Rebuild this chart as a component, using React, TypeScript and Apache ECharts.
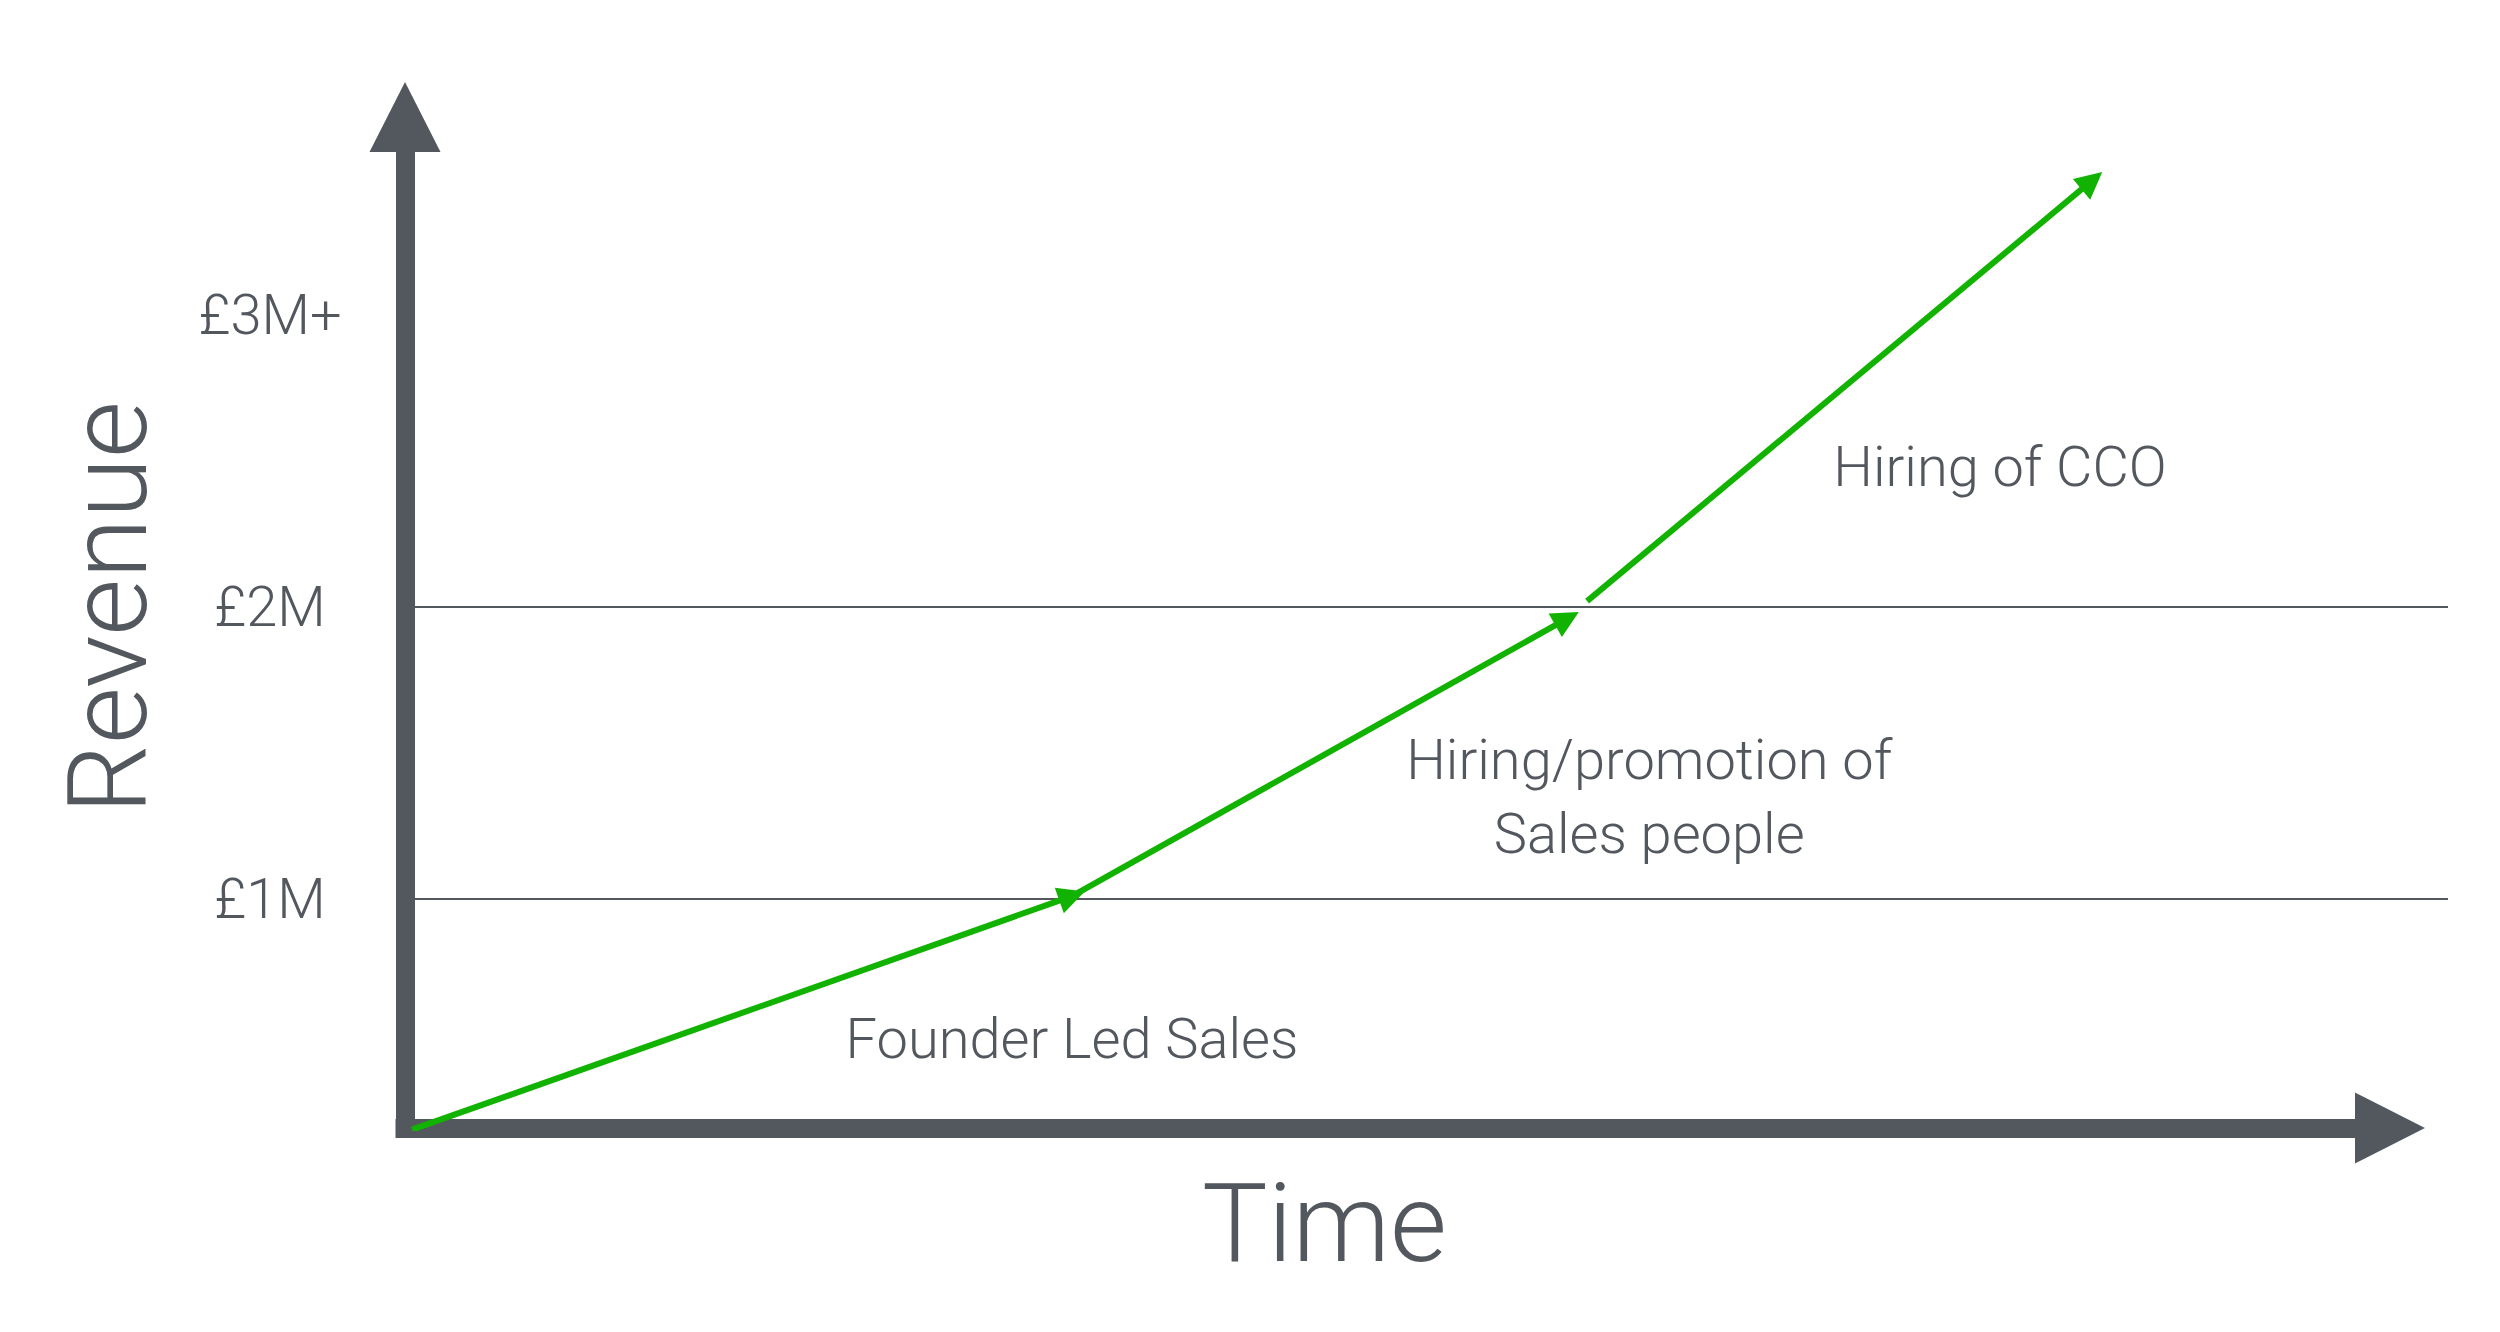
import React, { useEffect, useRef } from 'react'
import * as echarts from 'echarts'

// 구간별 성장 단계 (x: 시간 단위 0~100, y: 매출 £M)
const stageNames = ['Founder Led Sales', 'Hiring/promotion of\nSales people', 'Hiring of CCO']
const segStartX = [0.34, 32.65, 57.86]
const segStartY = [0.21, 1.01, 2.02]
const segEndX = [32.65, 56.88, 82.57]
const segEndY = [1.01, 1.96, 3.46]

// 단계 설명 텍스트 위치
const labelX = [32.65, 60.9, 78.07]
const labelY = [0.52, 1.35, 2.48]

// Y축 눈금
const yTickValues = [1, 2, 3]
const yTickLabels = ['£1M', '£2M', '£3M+']
const gridLineValues = [1, 2]

const yMin = 0.2158
const yMax = 3.678

const AXIS_COLOR = '#53575e'
const GREEN = '#12b300'
const FONT = 'Roboto, "Noto Sans", sans-serif'

export default function App() {
  const chartRef = useRef<HTMLDivElement>(null)

  useEffect(() => {
    if (!chartRef.current) return
    document.body.style.margin = '0'

    const chart = echarts.init(chartRef.current, null, { renderer: 'svg' })

    const option = {
      animation: false,
      backgroundColor: '#ffffff',
      textStyle: { fontFamily: FONT },
      grid: [
        // 데이터 + 가이드 라인
        { left: 405, right: 52, top: 117, bottom: 204, outerBoundsMode: 'none' },
        // 시간축 (화살표)
        { left: 405, right: 110, top: 117, bottom: 204, outerBoundsMode: 'none' },
      ],
      xAxis: [
        { type: 'value', gridIndex: 0, min: 0, max: 100, show: false },
        {
          type: 'value',
          gridIndex: 1,
          min: 0,
          max: 1,
          name: 'Time',
          nameLocation: 'middle',
          nameGap: 40,
          nameTextStyle: {
            color: AXIS_COLOR,
            fontSize: 110,
            fontWeight: 300,
            fontFamily: FONT,
            padding: [0, 146, 0, 0],
          },
          axisLine: {
            show: true,
            onZero: false,
            symbol: ['none', 'triangle'],
            symbolSize: [71, 70],
            lineStyle: { color: AXIS_COLOR, width: 19, cap: 'square' },
          },
          axisTick: { show: false },
          axisLabel: { show: false },
          splitLine: { show: false },
        },
      ],
      yAxis: [
        {
          type: 'value',
          gridIndex: 0,
          min: yMin,
          max: yMax,
          name: 'Revenue',
          nameLocation: 'middle',
          nameRotate: 90,
          nameGap: 242,
          nameTextStyle: {
            color: AXIS_COLOR,
            fontSize: 110,
            fontWeight: 300,
            fontFamily: FONT,
            padding: [0, 0, 0, 30],
          },
          axisLine: {
            show: true,
            onZero: false,
            symbol: ['none', 'triangle'],
            symbolSize: [71, 70],
            lineStyle: { color: AXIS_COLOR, width: 19, cap: 'square' },
          },
          axisTick: { show: false },
          splitLine: { show: false },
          axisLabel: {
            customValues: yTickValues,
            margin: 135,
            align: 'center',
            color: AXIS_COLOR,
            fontSize: 56,
            fontWeight: 300,
            fontFamily: FONT,
            padding: [14, 0, 0, 0],
            formatter: (v: number) => {
              const i = yTickValues.indexOf(Math.round(v))
              return i >= 0 && Math.abs(v - Math.round(v)) < 1e-6 ? yTickLabels[i] : ''
            },
          },
        },
        { type: 'value', gridIndex: 1, min: yMin, max: yMax, show: false },
      ],
      series: [
        {
          type: 'lines',
          coordinateSystem: 'cartesian2d',
          xAxisIndex: 0,
          yAxisIndex: 0,
          symbol: ['none', 'triangle'],
          symbolSize: 27,
          lineStyle: { color: GREEN, width: 6, opacity: 1, curveness: 0 },
          z: 5,
          data: stageNames.map((name, i) => ({
            name,
            coords: [
              [segStartX[i], segStartY[i]],
              [segEndX[i], segEndY[i]],
            ],
          })),
        },
        {
          type: 'scatter',
          xAxisIndex: 0,
          yAxisIndex: 0,
          symbolSize: 0,
          itemStyle: { color: AXIS_COLOR, opacity: 1 },
          silent: true,
          label: {
            show: true,
            position: 'inside',
            formatter: (p: any) => p.name,
            color: AXIS_COLOR,
            fontSize: 56,
            fontWeight: 300,
            fontFamily: FONT,
            lineHeight: 74,
            align: 'center',
            verticalAlign: 'middle',
          },
          data: stageNames.map((name, i) => ({ name, value: [labelX[i], labelY[i]] })),
          markLine: {
            silent: true,
            symbol: ['none', 'none'],
            label: { show: false },
            lineStyle: { color: AXIS_COLOR, width: 2, type: 'solid', opacity: 1 },
            data: gridLineValues.map(v => ({ yAxis: v })),
          },
        },
      ],
    }

    chart.setOption(option)

    return () => {
      chart.dispose()
    }
  }, [])

  return <div ref={chartRef} style={{ width: 2500, height: 1332 }} />
}
